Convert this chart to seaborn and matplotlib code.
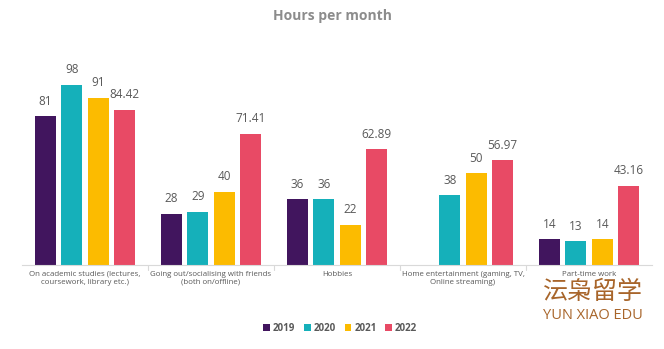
import matplotlib
matplotlib.use("Agg")
import matplotlib.pyplot as plt
import seaborn as sns
import pandas as pd

categories = ["On academic studies (lectures,\ncoursework, library etc.)",
              "Going out/socialising with friends\n(both on/offline)",
              "Hobbies",
              "Home entertainment (gaming, TV,\nOnline streaming)",
              "Part-time work"]
years = ["2019", "2020", "2021", "2022"]
v2019 = [81, 28, 36, None, 14]
v2020 = [98, 29, 36, 38, 13]
v2021 = [91, 40, 22, 50, 14]
v2022 = [84.42, 71.41, 62.89, 56.97, 43.16]
colors = ["#41155E", "#15B0BA", "#FCBB00", "#E84A65"]

rows = []
for y, vals in zip(years, [v2019, v2020, v2021, v2022]):
    for c, v in zip(categories, vals):
        rows.append({"cat": c, "year": y, "val": v})
df = pd.DataFrame(rows)

sns.set_theme(style="white")
plt.rcParams['font.family'] = ['Open Sans', 'Noto Sans CJK SC', 'DejaVu Sans']

fig = plt.figure(figsize=(6.64, 3.49), dpi=100)
ax = fig.add_axes([0.033, 0.24, 0.949, 0.66])
sns.barplot(data=df, x="cat", y="val", hue="year", palette=colors, width=0.84,
            gap=0.2, ax=ax, legend=True, edgecolor="none", saturation=1)

for p in ax.patches:
    h = p.get_height()
    if p.get_width() == 0 or h != h or h == 0:
        continue
    txt = f"{int(h)}" if float(h).is_integer() else f"{h:.2f}"
    ax.annotate(txt, (p.get_x() + p.get_width() / 2, h), xytext=(0, 6),
                textcoords="offset points", ha="center", va="bottom",
                fontsize=8.5, color="#595959")

ax.set_ylim(0, 125)
ax.set_xlim(-0.5, 4.5)
ax.set_yticks([])
ax.set_xlabel("")
ax.set_ylabel("")
for s in ["top", "right", "left"]:
    ax.spines[s].set_visible(False)
ax.spines["bottom"].set_color("#D9D9D9")
ax.spines["bottom"].set_linewidth(0.8)
ax.tick_params(axis="x", length=0, labelsize=5.7, labelcolor="#595959", pad=4)
for xb in [0.5, 1.5, 2.5, 3.5]:
    ax.plot([xb, xb], [0, -2.5], color="#D9D9D9", lw=0.8, clip_on=False)

leg = ax.legend(loc="center", bbox_to_anchor=(0.505, -0.275), ncol=4, frameon=False,
                fontsize=7, handlelength=0.7, handleheight=0.7, handletextpad=0.3,
                columnspacing=0.9)
for t in leg.get_texts():
    t.set_color("#595959")
    t.set_fontweight("bold")

fig.text(0.5, 0.953, "Hours per month", ha="center", va="center", fontsize=10,
         fontweight="bold", color="#8C8C8C")

fig.text(0.893, 0.163, "沄枭留学", ha="center", va="center", fontsize=18,
         color="#A8652A", family=['Noto Sans CJK SC'])
fig.text(0.893, 0.095, "YUN XIAO EDU", ha="center", va="center", fontsize=10.5,
         color="#A8652A")

fig.savefig("out.png", dpi=100)
